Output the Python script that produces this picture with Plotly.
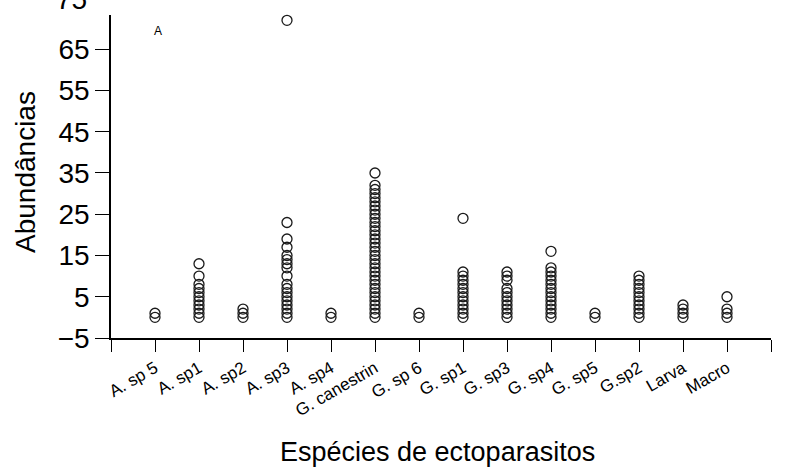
import plotly.graph_objects as go

# Species (x categories) and the abundance values observed for each
species = ['A. sp 5', 'A. sp1', 'A. sp2', 'A. sp3', 'A. sp4', 'G. canestrin',
           'G. sp 6', 'G. sp1', 'G. sp3', 'G. sp4', 'G. sp5', 'G.sp2', 'Larva', 'Macro']

a_sp5 = [0, 1]
a_sp1 = [0, 1, 2, 3, 4, 5, 6, 7, 8, 10, 13]
a_sp2 = [0, 1, 2]
a_sp3 = [0, 1, 2, 3, 4, 5, 6, 7, 8, 10, 12, 13, 14, 15, 17, 19, 23, 72]
a_sp4 = [0, 1]
g_canestrin = list(range(0, 33)) + [35]
g_sp6 = [0, 1]
g_sp1 = list(range(0, 12)) + [24]
g_sp3 = [0, 1, 2, 3, 4, 5, 6, 7, 9, 10, 11]
g_sp4 = list(range(0, 13)) + [16]
g_sp5 = [0, 1]
g_sp2 = list(range(0, 11))
larva = [0, 1, 2, 3]
macro = [0, 1, 2, 5]

values = [a_sp5, a_sp1, a_sp2, a_sp3, a_sp4, g_canestrin, g_sp6,
          g_sp1, g_sp3, g_sp4, g_sp5, g_sp2, larva, macro]

y_ticks = [-5, 5, 15, 25, 35, 45, 55, 65]
top_label = '75'   # tick label that is cropped by the top edge in the original

FONT = 'Arial, Liberation Sans, sans-serif'

# one x position per species, starting at 1 (0 and n+1 are empty tick slots)
xs, ys = [], []
for i, vals in enumerate(values):
    xs += [i + 1] * len(vals)
    ys += vals

fig = go.Figure()
fig.add_trace(go.Scatter(
    x=xs, y=ys, mode='markers',
    marker=dict(symbol='circle-open', size=10, color='#1a1a1a',
                line=dict(width=1.3)),
    showlegend=False, cliponaxis=False,
))

n = len(species)
fig.update_xaxes(
    range=[0, n + 1],
    tickmode='array',
    tickvals=list(range(0, n + 2)),
    ticktext=[''] + species + [''],
    tickangle=-30,
    ticks='outside', ticklen=12, tickwidth=1.3, tickcolor='black',
    showline=True, linecolor='black', linewidth=1.5,
    showgrid=False, zeroline=False,
    tickfont=dict(family=FONT, size=17, color='black'),
)
fig.update_yaxes(
    range=[-5, 73.3],
    tickmode='array', tickvals=y_ticks,
    ticks='outside', ticklen=14, tickwidth=1.3, tickcolor='black',
    showline=True, linecolor='black', linewidth=1.5,
    showgrid=False, zeroline=False,
    tickfont=dict(family=FONT, size=28, color='black'),
)

fig.update_layout(
    width=809, height=467,
    margin=dict(l=111, r=38, t=15, b=129),
    paper_bgcolor='white', plot_bgcolor='white',
    font=dict(family=FONT, color='black'),
    annotations=[
        dict(text=top_label, xref='paper', yref='paper', x=-0.034, y=1.049,
             xanchor='right', yanchor='middle', showarrow=False,
             font=dict(size=28)),
        dict(text='A', xref='paper', yref='paper', x=0.0712, y=0.949,
             xanchor='center', yanchor='middle', showarrow=False,
             font=dict(size=12)),
        dict(text='Espécies de ectoparasitos', xref='paper', yref='paper',
             x=0.495, y=-0.353, xanchor='center', yanchor='middle',
             showarrow=False, font=dict(size=27)),
        dict(text='Abundâncias', xref='paper', yref='paper',
             x=-0.1288, y=0.514, xanchor='center', yanchor='middle',
             textangle=-90, showarrow=False, font=dict(size=28)),
    ],
)

# drop the default page margin so the figure fills the window exactly
fig.write_html("out.html", config={'displayModeBar': False},
               post_script="document.body.style.margin='0';")
